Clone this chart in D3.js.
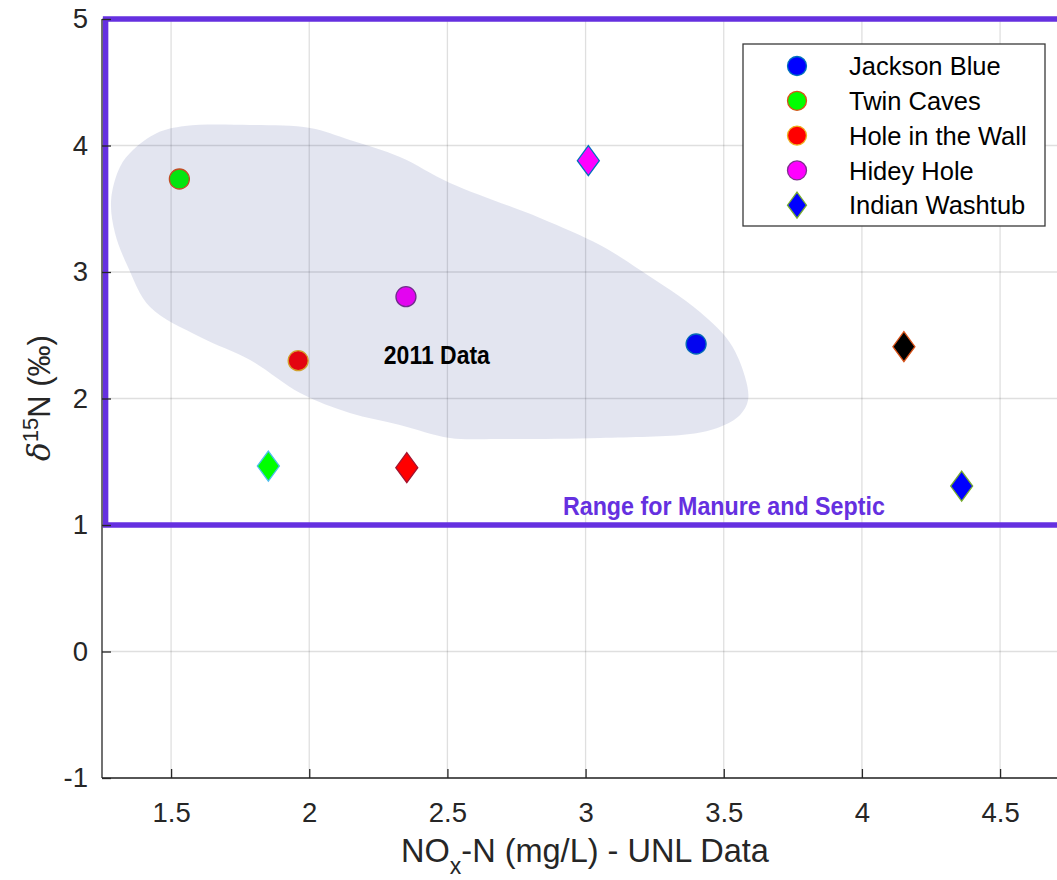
<!DOCTYPE html>
<html>
<head>
<meta charset="utf-8">
<script src="https://cdn.jsdelivr.net/npm/d3@7"></script>
<style>
  html, body { margin: 0; padding: 0; background: #fff; }
  svg { display: block; font-family: "Liberation Sans", Arial, Helvetica, sans-serif; }
</style>
</head>
<body>
<svg id="chart" width="1057" height="880"></svg>
<script>
// Site samples: NOx-N concentration vs delta-15N
const sites = ["Jackson Blue", "Twin Caves", "Hole in the Wall", "Hidey Hole", "Indian Washtub",
               "Site 6", "Site 7", "Site 8", "Site 9"];
const noxN = [3.400, 1.530, 1.960, 2.350, 4.361, 1.852, 2.353, 3.010, 4.152];
const d15N = [2.431, 3.735, 2.299, 2.805, 1.308, 1.466, 1.453, 3.880, 2.410];
const shapes = ["circle", "circle", "circle", "circle", "diamond", "diamond", "diamond", "diamond", "diamond"];
const fills = ["#0000ff", "#00ff00", "#ff0000", "#ff00ff", "#0000ff", "#00ff00", "#ff0000", "#ff00ff", "#000000"];
const edges = ["#0072bd", "#d95319", "#edb120", "#7e2f8e", "#77ac30", "#4dbeee", "#a2142f", "#0072bd", "#d95319"];
const legendCount = 5;

// Outline of the 2011 data envelope (NOx-N, d15N)
const envX = [1.449, 1.550, 1.786, 2.003, 2.147, 2.328, 2.509, 2.835, 3.052, 3.197, 3.414, 3.523, 3.577, 3.588,
              3.559, 3.486, 3.378, 3.052, 2.690, 2.509, 2.328, 2.147, 1.967, 1.786, 1.605, 1.424, 1.344, 1.297,
              1.283, 1.315, 1.362];
const envY = [4.099, 4.154, 4.162, 4.138, 4.043, 3.909, 3.704, 3.427, 3.213, 3.016, 2.684, 2.439, 2.170, 1.988,
              1.870, 1.775, 1.719, 1.688, 1.680, 1.688, 1.791, 1.885, 2.043, 2.304, 2.486, 2.723, 3.040, 3.308,
              3.569, 3.830, 3.964];

// Manure/septic range box
const rangeX = [1.263, 5.2];
const rangeY = [1, 5];

const xTicks = [1.5, 2, 2.5, 3, 3.5, 4, 4.5];
const yTicks = [-1, 0, 1, 2, 3, 4, 5];

const svg = d3.select("#chart");
const x = d3.scaleLinear().domain([1.25, 5]).range([102, 102 + 3.75 * 276.33]);
const y = d3.scaleLinear().domain([-1, 5]).range([778, 19]);
const axisColor = "#262626";
const purple = "#6530e0";

const plot = svg.append("g");

// grid
plot.append("g").selectAll("line").data(xTicks).join("line")
  .attr("x1", d => x(d)).attr("x2", d => x(d)).attr("y1", y(-1)).attr("y2", y(5))
  .attr("stroke", axisColor).attr("stroke-opacity", 0.15).attr("stroke-width", 1.3);
plot.append("g").selectAll("line").data(yTicks).join("line")
  .attr("x1", x(1.25)).attr("x2", 1057).attr("y1", d => y(d)).attr("y2", d => y(d))
  .attr("stroke", axisColor).attr("stroke-opacity", 0.15).attr("stroke-width", 1.3);

// markers
const diamond = (w, h) => `M0,${-h/2}L${w/2},0L0,${h/2}L${-w/2},0Z`;
const pts = d3.range(sites.length);
plot.append("g").selectAll("path").data(pts).join("path")
  .attr("transform", i => `translate(${x(noxN[i])},${y(d15N[i])})`)
  .attr("d", i => shapes[i] === "circle"
        ? d3.arc()({innerRadius: 0, outerRadius: 10, startAngle: 0, endAngle: 2 * Math.PI})
        : diamond(22, 30))
  .attr("fill", i => fills[i]).attr("stroke", i => edges[i]).attr("stroke-width", 1.3);

// envelope (translucent, on top of markers)
const env = envX.map((v, i) => [x(v), y(envY[i])]);
plot.append("path")
  .attr("d", d3.line().curve(d3.curveCatmullRomClosed.alpha(0.5))(env))
  .attr("fill", "#162682").attr("fill-opacity", 0.12);

// range box
plot.append("rect")
  .attr("x", x(rangeX[0])).attr("y", y(rangeY[1]))
  .attr("width", x(rangeX[1]) - x(rangeX[0])).attr("height", y(rangeY[0]) - y(rangeY[1]))
  .attr("fill", "none").attr("stroke", purple).attr("stroke-width", 5.5);

// annotations
plot.append("text").attr("x", x(2.27)).attr("y", y(2.273))
  .attr("font-size", 26).attr("font-weight", "bold").attr("fill", "#000")
  .attr("textLength", 106).attr("lengthAdjust", "spacingAndGlyphs")
  .text("2011 Data");
plot.append("text").attr("x", x(2.918)).attr("y", y(1.079))
  .attr("font-size", 25).attr("font-weight", "bold").attr("fill", purple)
  .attr("textLength", 322).attr("lengthAdjust", "spacingAndGlyphs")
  .text("Range for Manure and Septic");

// axes
const fmt = d => String(d);
const xAxis = svg.append("g").attr("transform", `translate(0,${y(-1)})`)
  .call(d3.axisBottom(x).tickValues(xTicks).tickSize(-9).tickPadding(24).tickFormat(fmt));
const yAxis = svg.append("g").attr("transform", `translate(${x(1.25)},0)`)
  .call(d3.axisLeft(y).tickValues(yTicks).tickSize(-9).tickPadding(14).tickFormat(fmt));
[xAxis, yAxis].forEach(a => {
  a.select(".domain").attr("stroke", axisColor).attr("stroke-width", 1.3);
  a.selectAll(".tick line").attr("stroke", axisColor).attr("stroke-width", 1.3);
  a.selectAll(".tick text").attr("fill", axisColor).attr("font-size", 27.5)
    .attr("font-family", "Liberation Sans, Arial, sans-serif");
});
xAxis.select(".domain").attr("d", `M${x(1.25)},0H1057`);
yAxis.select(".domain").attr("d", `M0,${y(-1)}V${y(5)}`);
xAxis.selectAll(".tick text").attr("dy", "0.71em");

// axis titles
const xt = svg.append("text").attr("x", 585).attr("y", 862).attr("text-anchor", "middle")
  .attr("font-size", 32.5).attr("fill", axisColor);
xt.append("tspan").text("NO");
xt.append("tspan").attr("font-size", 23).attr("dy", 12).text("x");
xt.append("tspan").attr("dy", -12).text("-N (mg/L) - UNL Data");

const yt = svg.append("text").attr("transform", "translate(50,398) rotate(-90)")
  .attr("text-anchor", "middle").attr("font-size", 31).attr("fill", axisColor);
yt.append("tspan").attr("font-style", "italic").attr("font-family", "DejaVu Serif, serif").text("\u03b4");
yt.append("tspan").attr("font-size", 22).attr("dy", -12).text("15");
yt.append("tspan").attr("dy", 12).text("N (\u2030)");

// legend
const lg = svg.append("g");
lg.append("rect").attr("x", 743).attr("y", 44).attr("width", 302).attr("height", 182)
  .attr("fill", "#fff").attr("stroke", "#3a3a3a").attr("stroke-width", 1.3);
const rows = lg.selectAll("g.row").data(d3.range(legendCount)).join("g").attr("class", "row")
  .attr("transform", i => `translate(797,${66 + i * 34.8})`);
rows.append("path")
  .attr("d", i => shapes[i] === "circle"
        ? d3.arc()({innerRadius: 0, outerRadius: 9.5, startAngle: 0, endAngle: 2 * Math.PI})
        : diamond(19, 26))
  .attr("fill", i => fills[i]).attr("stroke", i => edges[i]).attr("stroke-width", 1.3);
rows.append("text").attr("x", 52).attr("dy", "0.36em").attr("font-size", 25.5).attr("fill", "#000")
  .text(i => sites[i]);
</script>
</body>
</html>
